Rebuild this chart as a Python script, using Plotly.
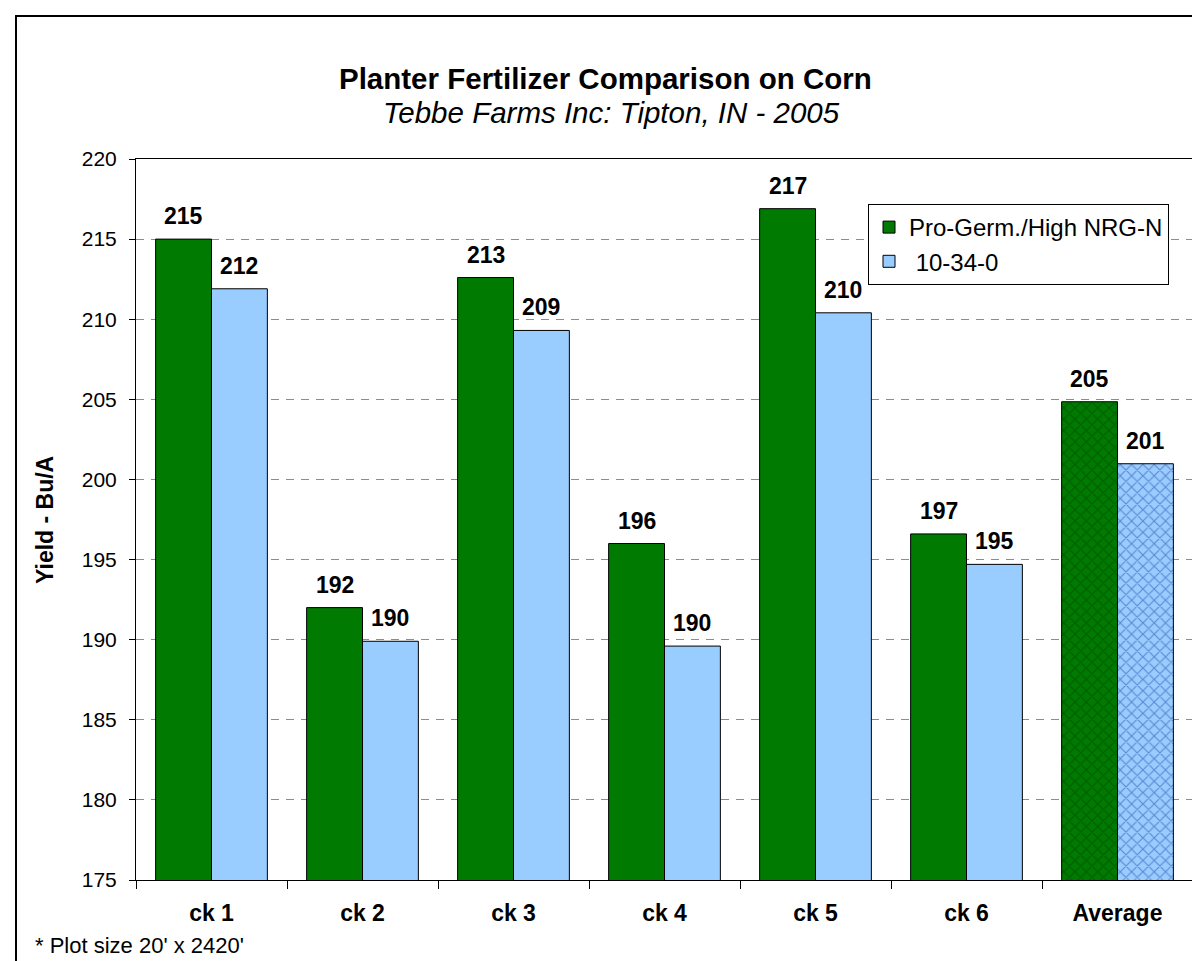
import plotly.graph_objects as go

categories = ["ck 1", "ck 2", "ck 3", "ck 4", "ck 5", "ck 6", "Average"]
pro_germ = [215.0, 192.0, 212.6, 196.0, 216.9, 196.6, 204.85]
ten_34 = [211.9, 189.9, 209.3, 189.6, 210.4, 194.7, 200.98]
y_ticks = [175, 180, 185, 190, 195, 200, 205, 210, 215, 220]

W, H = 1200, 961
L, R, T, B = 128, 15, 151, 89
pw, ph = W - L - R, H - T - B

def px(x):
    return (x - L) / pw

def py(y):
    return (H - B - y) / ph

FONT = "Liberation Sans, Arial, sans-serif"
green = "#007A00"
blue = "#99CCFF"
BARGAP = 0.26

n = len(categories)
g_shapes = [""] * (n - 1) + ["x"]
b_shapes = [""] * (n - 1) + ["x"]

fig = go.Figure()
fig.add_trace(go.Bar(
    x=categories, y=pro_germ, name="Pro-Germ./High NRG-N",
    marker=dict(color=green, line=dict(color="black", width=1),
                pattern=dict(shape=g_shapes, fgcolor="#003C00", size=8, solidity=0.25)),
))
fig.add_trace(go.Bar(
    x=categories, y=ten_34, name=" 10-34-0",
    marker=dict(color=blue, line=dict(color="black", width=1),
                pattern=dict(shape=b_shapes, fgcolor="#1F3FA0", size=8, solidity=0.25)),
))

cat_w = pw / n
bar_w = cat_w * (1 - BARGAP) / 2
annotations = []
for series, sh in ((pro_germ, -bar_w / 2), (ten_34, bar_w / 2)):
    for c, v in zip(categories, series):
        annotations.append(dict(
            x=c, y=v, xref="x", yref="y", text=f"<b>{v:.0f}</b>", showarrow=False,
            xanchor="center", yanchor="bottom", xshift=sh, yshift=8,
            font=dict(family=FONT, size=23, color="black")))

annotations += [
    dict(text="<b>Planter Fertilizer Comparison on Corn</b>", xref="paper", yref="paper",
         x=px(597), y=py(70), xanchor="center", yanchor="middle", showarrow=False,
         font=dict(family=FONT, size=29.5, color="black")),
    dict(text="<i>Tebbe Farms Inc: Tipton, IN - 2005</i>", xref="paper", yref="paper",
         x=px(603), y=py(104), xanchor="center", yanchor="middle", showarrow=False,
         font=dict(family=FONT, size=29.5, color="black")),
    dict(text="<b>Yield - Bu/A</b>", xref="paper", yref="paper",
         x=px(37), y=py(512), xanchor="center", yanchor="middle", showarrow=False,
         textangle=-90, font=dict(family=FONT, size=23, color="black")),
    dict(text="* Plot size 20' x 2420'", xref="paper", yref="paper",
         x=px(25), y=py(937), xanchor="left", yanchor="middle", showarrow=False,
         font=dict(family=FONT, size=22, color="black")),
]

fig.update_layout(
    width=W, height=H,
    margin=dict(l=L, r=R, t=T, b=B),
    paper_bgcolor="white", plot_bgcolor="white",
    barmode="group", bargap=BARGAP, bargroupgap=0,
    font=dict(family=FONT, size=21, color="black"),
    showlegend=True,
    legend=dict(x=px(860), y=py(196), xanchor="left", yanchor="top",
                bgcolor="white", bordercolor="black", borderwidth=1,
                font=dict(family=FONT, size=24, color="black"),
                itemwidth=30),
    xaxis=dict(showline=True, linecolor="black", linewidth=1, mirror=True,
               ticks="outside", tickson="boundaries", ticklen=8, tickcolor="black",
               ticklabelstandoff=12,
               tickfont=dict(family=FONT, size=23, color="black", weight="bold"),
               showgrid=False),
    yaxis=dict(range=[175, 220], tickvals=y_ticks, showline=True, linecolor="black",
               linewidth=1, mirror=True, ticks="outside", ticklen=6, tickcolor="black",
               ticklabelstandoff=8,
               tickfont=dict(family=FONT, size=21, color="black"),
               showgrid=True, gridcolor="#8C8C8C", gridwidth=1, griddash="8px,7px",
               zeroline=False),
    annotations=annotations,
    shapes=[
        dict(type="rect", xref="paper", yref="paper",
             x0=px(8), x1=px(W + 10), y0=py(H + 10), y1=py(8),
             line=dict(color="black", width=2), fillcolor="rgba(0,0,0,0)", layer="above"),
    ],
)

fig.write_html("out.html")
